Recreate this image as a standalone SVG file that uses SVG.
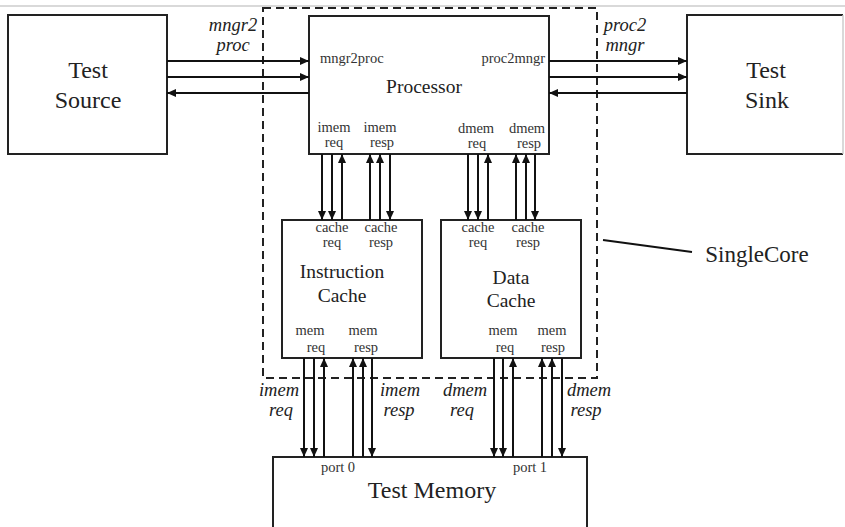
<svg xmlns="http://www.w3.org/2000/svg" width="845" height="527" viewBox="0 0 845 527">
<defs>
<marker id="ah" markerUnits="userSpaceOnUse" markerWidth="10" markerHeight="8" refX="9" refY="4" orient="auto">
<path d="M0,0 L9,4 L0,8 z" fill="#111"/>
</marker>
<style>
.box{fill:#fff;stroke:#222;stroke-width:2}
.w{stroke:#111;stroke-width:2;fill:none}
.a{stroke:#111;stroke-width:2;fill:none;marker-end:url(#ah)}
.t{font-family:"Liberation Serif","Times New Roman",serif;fill:#222;text-anchor:middle}
.big{font-size:24px}
.mid{font-size:19.5px}
.sm{font-size:14.5px;fill:#333}
.it{font-size:18.5px;font-style:italic}
</style>
</defs>
<rect width="845" height="527" fill="#fff"/>
<line x1="0" y1="6" x2="845" y2="6" stroke="#ccc" stroke-width="1.5"/>

<g id="singlecore">
<rect x="263" y="8" width="334" height="370" fill="none" stroke="#222" stroke-width="2" stroke-dasharray="8 5"/>
<line x1="603" y1="240" x2="692" y2="252" stroke="#111" stroke-width="2"/>
<text class="t" x="757" y="262" style="font-size:23px">SingleCore</text>
</g>

<g id="test-source">
<rect class="box" x="8" y="15" width="159" height="139"/>
<text class="t big" x="88" y="78">Test</text>
<text class="t big" x="88" y="108">Source</text>
</g>

<g id="test-sink">
<path d="M843,15 H687 V154 H843" class="box"/>
<line x1="843" y1="15" x2="843" y2="154" stroke="#ccc" stroke-width="1.5"/>
<text class="t big" x="766" y="78">Test</text>
<text class="t big" x="767" y="108">Sink</text>
</g>

<g id="processor">
<rect class="box" x="309" y="16" width="240" height="138"/>
<text class="t sm" x="320" y="63" style="text-anchor:start">mngr2proc</text>
<text class="t sm" x="545" y="63" style="text-anchor:end">proc2mngr</text>
<text class="t mid" x="424" y="93">Processor</text>
<text class="t sm" x="334" y="132">imem</text>
<text class="t sm" x="334" y="147">req</text>
<text class="t sm" x="380" y="132">imem</text>
<text class="t sm" x="382" y="147">resp</text>
<text class="t sm" x="476" y="133">dmem</text>
<text class="t sm" x="477" y="148">req</text>
<text class="t sm" x="527" y="133">dmem</text>
<text class="t sm" x="529" y="148">resp</text>
</g>

<g id="instruction-cache">
<rect class="box" x="282" y="220" width="140" height="138"/>
<text class="t sm" x="332" y="232">cache</text>
<text class="t sm" x="332" y="247">req</text>
<text class="t sm" x="381" y="232">cache</text>
<text class="t sm" x="381" y="247">resp</text>
<text class="t mid" x="342" y="278">Instruction</text>
<text class="t mid" x="342" y="302">Cache</text>
<text class="t sm" x="310" y="335">mem</text>
<text class="t sm" x="316" y="352">req</text>
<text class="t sm" x="363" y="335">mem</text>
<text class="t sm" x="366" y="352">resp</text>
</g>

<g id="data-cache">
<rect class="box" x="441" y="220" width="140" height="138"/>
<text class="t sm" x="478" y="232">cache</text>
<text class="t sm" x="478" y="247">req</text>
<text class="t sm" x="528" y="232">cache</text>
<text class="t sm" x="528" y="247">resp</text>
<text class="t mid" x="511" y="284">Data</text>
<text class="t mid" x="511" y="307">Cache</text>
<text class="t sm" x="503" y="335">mem</text>
<text class="t sm" x="505" y="352">req</text>
<text class="t sm" x="552" y="335">mem</text>
<text class="t sm" x="553" y="352">resp</text>
</g>

<g id="test-memory">
<rect class="box" x="273" y="457" width="314" height="80"/>
<text class="t sm" x="338" y="472">port 0</text>
<text class="t sm" x="530" y="472">port 1</text>
<text class="t big" x="432" y="498">Test Memory</text>
</g>

<g id="connectors">
<line class="a" x1="167" y1="61" x2="309" y2="61"/>
<line class="a" x1="167" y1="77" x2="309" y2="77"/>
<line class="a" x1="309" y1="93" x2="167" y2="93"/>
<line class="a" x1="549" y1="61" x2="687" y2="61"/>
<line class="a" x1="549" y1="77" x2="687" y2="77"/>
<line class="a" x1="687" y1="93" x2="549" y2="93"/>

<line class="a" x1="322" y1="154" x2="322" y2="220"/>
<line class="a" x1="332" y1="154" x2="332" y2="220"/>
<line class="a" x1="342" y1="220" x2="342" y2="154"/>
<line class="a" x1="370" y1="220" x2="370" y2="154"/>
<line class="a" x1="380" y1="220" x2="380" y2="154"/>
<line class="a" x1="390" y1="154" x2="390" y2="220"/>
<line class="a" x1="468" y1="154" x2="468" y2="220"/>
<line class="a" x1="478" y1="154" x2="478" y2="220"/>
<line class="a" x1="488" y1="220" x2="488" y2="154"/>
<line class="a" x1="516" y1="220" x2="516" y2="154"/>
<line class="a" x1="526" y1="220" x2="526" y2="154"/>
<line class="a" x1="535" y1="154" x2="535" y2="220"/>

<line class="a" x1="304" y1="358" x2="304" y2="457"/>
<line class="a" x1="314" y1="358" x2="314" y2="457"/>
<line class="a" x1="324" y1="457" x2="324" y2="358"/>
<line class="a" x1="353" y1="457" x2="353" y2="358"/>
<line class="a" x1="363" y1="457" x2="363" y2="358"/>
<line class="a" x1="372" y1="358" x2="372" y2="457"/>
<line class="a" x1="494" y1="358" x2="494" y2="457"/>
<line class="a" x1="503" y1="358" x2="503" y2="457"/>
<line class="a" x1="513" y1="457" x2="513" y2="358"/>
<line class="a" x1="542" y1="457" x2="542" y2="358"/>
<line class="a" x1="552" y1="457" x2="552" y2="358"/>
<line class="a" x1="562" y1="358" x2="562" y2="457"/>
</g>

<g id="labels">
<text class="t it" x="233" y="31">mngr2</text>
<text class="t it" x="233" y="51">proc</text>
<text class="t it" x="625" y="31">proc2</text>
<text class="t it" x="625" y="51">mngr</text>
<text class="t it" x="279" y="396">imem</text>
<text class="t it" x="281" y="416">req</text>
<text class="t it" x="400" y="396">imem</text>
<text class="t it" x="399" y="416">resp</text>
<text class="t it" x="465" y="396">dmem</text>
<text class="t it" x="462" y="416">req</text>
<text class="t it" x="589" y="396">dmem</text>
<text class="t it" x="586" y="416">resp</text>
</g>
</svg>
